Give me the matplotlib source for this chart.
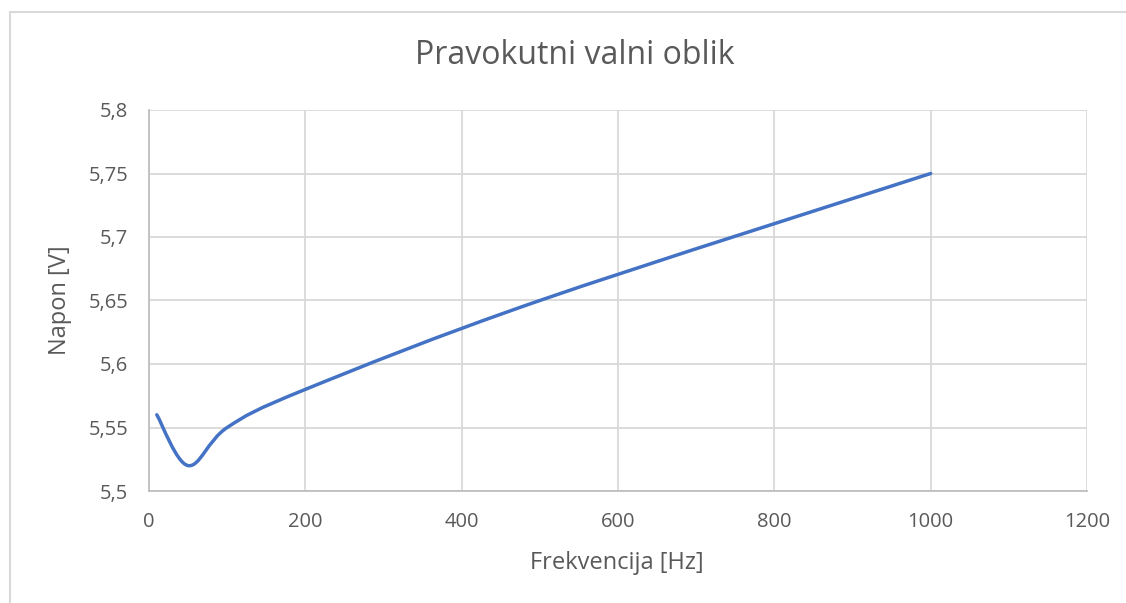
"""Pravokutni valni oblik - napon u ovisnosti o frekvenciji."""

import matplotlib

matplotlib.use("Agg")
import matplotlib.pyplot as plt
from matplotlib.patches import PathPatch
from matplotlib.path import Path
from matplotlib.ticker import FuncFormatter

FREQUENCY_HZ = [10, 50, 100, 200, 500, 1000]
VOLTAGE_V = [5.56, 5.52, 5.55, 5.58, 5.65, 5.75]

X_TICKS = [0, 200, 400, 600, 800, 1000, 1200]
Y_TICKS = [5.5, 5.55, 5.6, 5.65, 5.7, 5.75, 5.8]

COLORS = {
    "line": "#4472C4",
    "grid": "#D9D9D9",
    "text": "#595959",
    "border": "#D9D9D9",
}


def smooth_path(xs, ys):
    """Excel-style smoothed line: cubic Bezier segments through every point."""
    pts = list(zip(xs, ys))
    n = len(pts)
    verts = [pts[0]]
    codes = [Path.MOVETO]
    for i in range(n - 1):
        p0 = pts[max(i - 1, 0)]
        p1 = pts[i]
        p2 = pts[i + 1]
        p3 = pts[min(i + 2, n - 1)]
        c1 = (p1[0] + (p2[0] - p0[0]) / 6, p1[1] + (p2[1] - p0[1]) / 6)
        c2 = (p2[0] - (p3[0] - p1[0]) / 6, p2[1] - (p3[1] - p1[1]) / 6)
        verts += [c1, c2, p2]
        codes += [Path.CURVE4] * 3
    return Path(verts, codes)


def comma(value, _pos):
    return f"{value:g}".replace(".", ",")


plt.rcParams["font.family"] = ["Open Sans", "DejaVu Sans"]

fig = plt.figure(figsize=(11.26, 6.03), dpi=100)
fig.patch.set_facecolor("white")

# light frame of the chart area (top and left edges visible)
fig.add_artist(plt.Line2D([10 / 1126, 1.0], [1 - 12 / 603, 1 - 12 / 603],
                          transform=fig.transFigure, color=COLORS["border"], lw=1.5))
fig.add_artist(plt.Line2D([10 / 1126, 10 / 1126], [0.0, 1 - 12 / 603],
                          transform=fig.transFigure, color=COLORS["border"], lw=1.5))

ax = fig.add_axes([149 / 1126, 1 - 491 / 603, (1087 - 149) / 1126, (491 - 110) / 603])
ax.set_xlim(0, 1200)
ax.set_ylim(5.5, 5.8)
ax.set_xticks(X_TICKS)
ax.set_yticks(Y_TICKS)
ax.xaxis.set_major_formatter(FuncFormatter(comma))
ax.yaxis.set_major_formatter(FuncFormatter(comma))
ax.grid(True, color=COLORS["grid"], lw=1.3)
ax.set_axisbelow(True)
for side in ("top", "right"):
    ax.spines[side].set_visible(False)
for side in ("left", "bottom"):
    ax.spines[side].set_color("#BFBFBF")
    ax.spines[side].set_linewidth(1.3)
ax.tick_params(length=0, labelsize=14.5, colors=COLORS["text"], pad=15)

ax.add_patch(PathPatch(smooth_path(FREQUENCY_HZ, VOLTAGE_V), fill=False,
                       edgecolor=COLORS["line"], lw=2.5, capstyle="round"))

xlab = ax.set_xlabel("Frekvencija [Hz]", fontsize=17, color=COLORS["text"])
ylab = ax.set_ylabel("Napon [V]", fontsize=17, color=COLORS["text"])
xlab.set_va("center")
ylab.set_va("center")
ax.xaxis.set_label_coords((617 - 149) / 938, (491 - 563) / 381)
ax.yaxis.set_label_coords((60 - 149) / 938, (491 - 300) / 381)
fig.text(575 / 1126, 1 - 56 / 603, "Pravokutni valni oblik", ha="center", va="center",
         fontsize=23, color=COLORS["text"])

fig.savefig("out.png", dpi=100)
plt.close(fig)
